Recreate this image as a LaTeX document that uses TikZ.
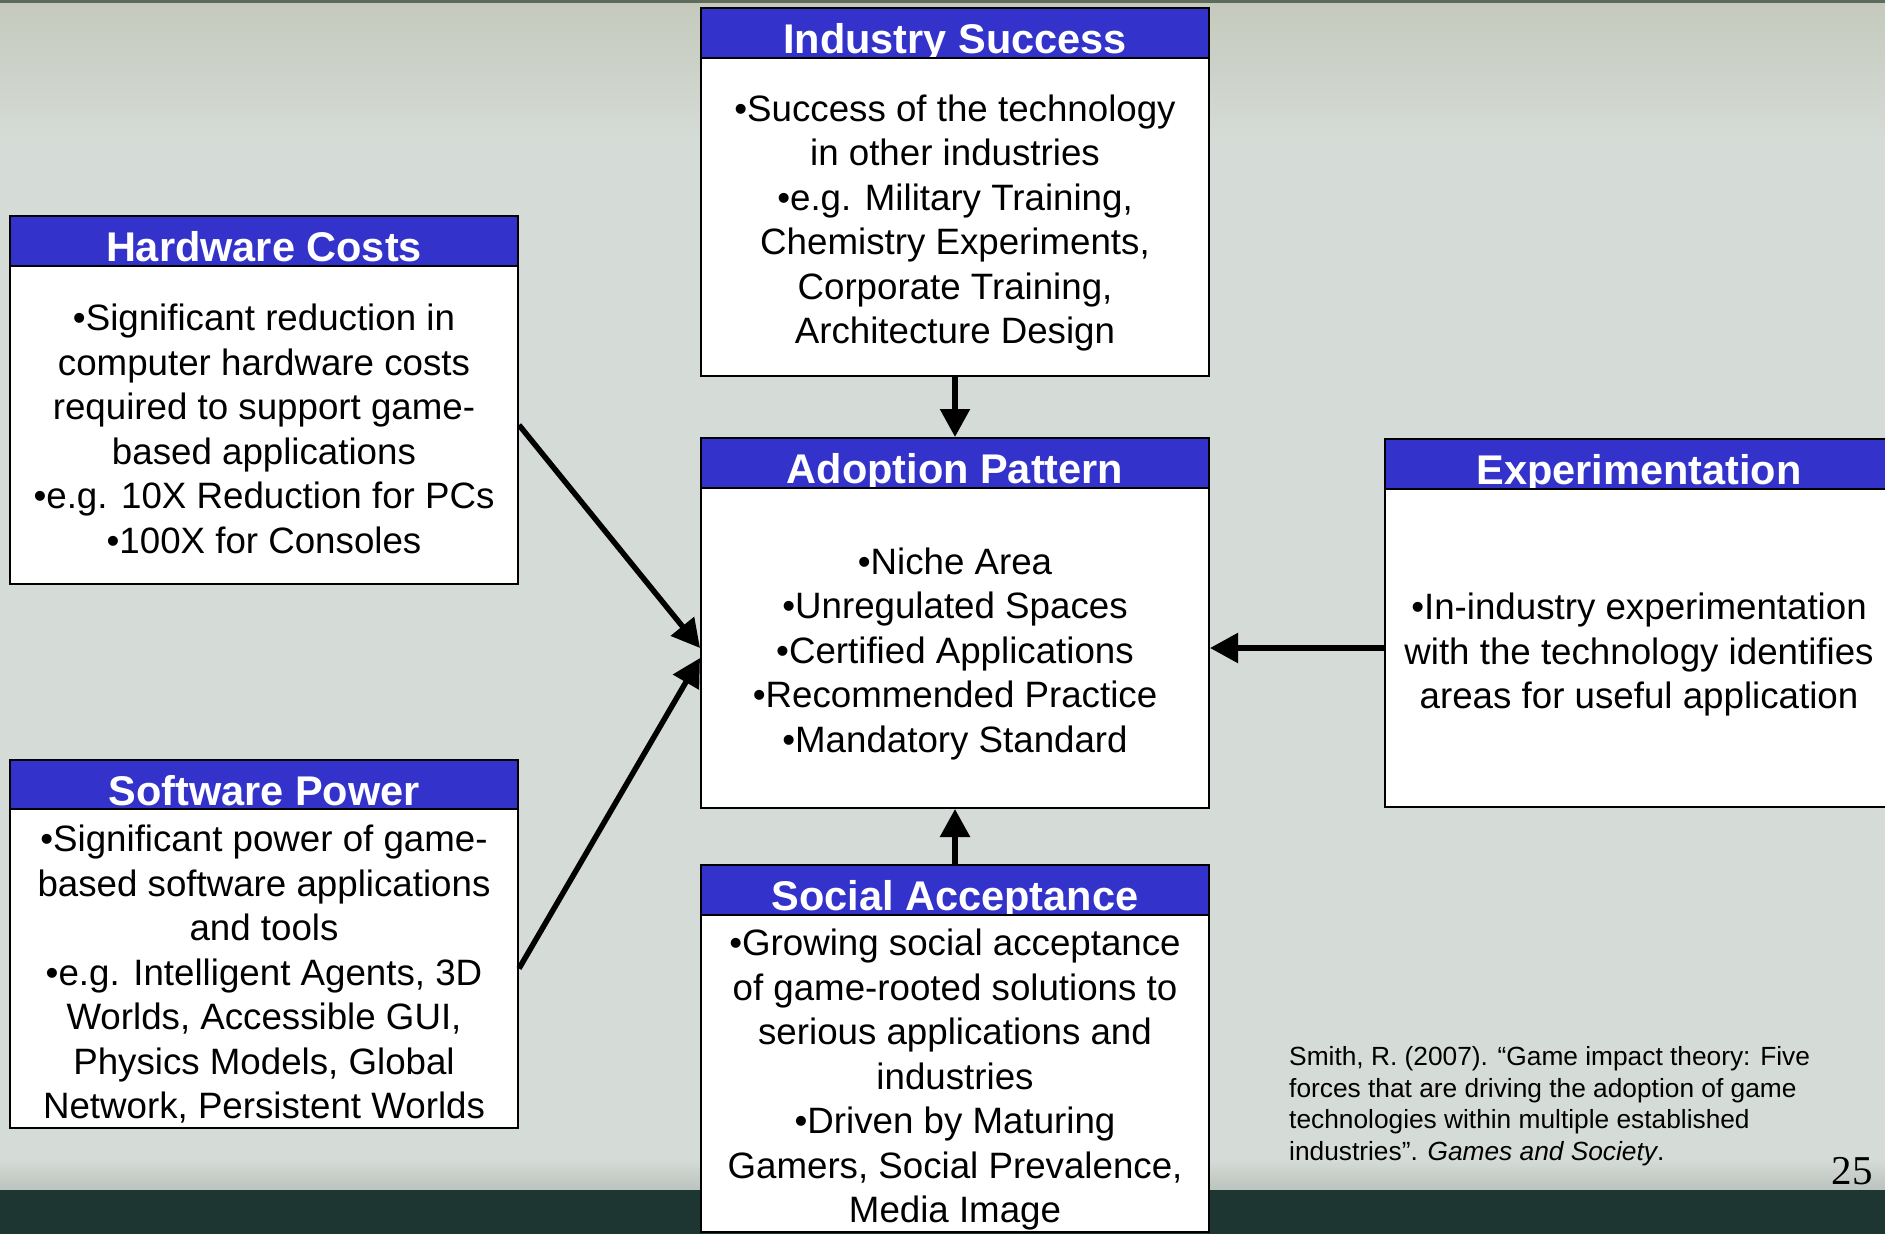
\documentclass[tikz,border=0pt]{standalone}
\usepackage{fontspec}
\setmainfont{Liberation Sans}
\newfontfamily\numfont{Liberation Serif}
\usetikzlibrary{arrows.meta,calc}

\definecolor{slidebg}{RGB}{213,219,214}
\definecolor{slidetop}{RGB}{197,202,189}
\definecolor{topline}{RGB}{95,107,90}
\definecolor{bandcol}{RGB}{30,54,49}
\definecolor{bandfade}{RGB}{186,195,189}
\definecolor{headblue}{RGB}{51,51,204}

\newcommand\hdfont{\bfseries\fontsize{41.5pt}{48pt}\selectfont}
\newcommand\bdfont{\fontsize{36.7pt}{44.5pt}\selectfont}
\newcommand\ctfont{\fontsize{26.3pt}{31.8pt}\selectfont}

\tikzset{
  headbox/.style={fill=headblue, draw=black, line width=2pt,
    minimum width=508pt, minimum height=50pt, inner sep=0pt,
    text=white, font=\hdfont, text height=45pt, text depth=5pt},
  bodybox/.style={fill=white, draw=black, line width=2pt,
    minimum width=508pt, inner sep=0pt},
  bodytext/.style={inner sep=0pt, align=center, font=\bdfont},
  force/.style={-{Triangle[length=28pt,width=29pt]}, line width=5.5pt},
}

\begin{document}
\begin{tikzpicture}[x=1pt, y=-1pt]
\useasboundingbox (0,0) rectangle (1885,1234);
\clip (0,0) rectangle (1885,1234);

% slide background
\fill[slidebg] (0,0) rectangle (1885,1234);
\shade[top color=slidetop, bottom color=slidebg] (0,3) rectangle (1885,140);
\fill[topline] (0,0) rectangle (1885,3);
\shade[top color=slidebg, bottom color=bandfade] (0,1160) rectangle (1885,1190);
\fill[bandcol] (0,1190) rectangle (1885,1234);

% Industry Success
\node[headbox] (isHead) at (955,33) {Industry Success};
\node[bodybox, minimum height=318pt] (isBody) at (955,217) {};
\node[bodytext] (isText) at ($(isBody.center)+(0,6)$)
  {•Success of the technology\\in other industries\\•e.g. Military Training,\\Chemistry Experiments,\\Corporate Training,\\Architecture Design};

% Hardware Costs
\node[headbox] (hcHead) at (264,241) {Hardware Costs};
\node[bodybox, minimum height=318pt] (hcBody) at (264,425) {};
\node[bodytext] (hcText) at ($(hcBody.center)+(0,4)$)
  {•Significant reduction in\\computer hardware costs\\required to support game-\\based applications\\•e.g. 10X Reduction for PCs\\•100X for Consoles};

% Adoption Pattern
\node[headbox] (apHead) at (955,463) {Adoption Pattern};
\node[bodybox, minimum height=320pt] (apBody) at (955,648) {};
\node[bodytext] (apText) at ($(apBody.center)+(0,6)$)
  {•Niche Area\\•Unregulated Spaces\\•Certified Applications\\•Recommended Practice\\•Mandatory Standard};

% Experimentation
\node[headbox] (exHead) at (1639,464) {Experimentation};
\node[bodybox, minimum height=318pt] (exBody) at (1639,648) {};
\node[bodytext] (exText) at ($(exBody.center)+(0,7)$)
  {•In-industry experimentation\\with the technology identifies\\areas for useful application};

% Software Power
\node[headbox] (spHead) at (264,785) {Software Power};
\node[bodybox, minimum height=319pt] (spBody) at (264,968.5) {};
\node[bodytext] (spText) at ($(spBody.center)+(0,6)$)
  {•Significant power of game-\\based software applications\\and tools\\•e.g. Intelligent Agents, 3D\\Worlds, Accessible GUI,\\Physics Models, Global\\Network, Persistent Worlds};

% Social Acceptance
\node[headbox] (saHead) at (955,890) {Social Acceptance};
\node[bodybox, minimum height=317pt] (saBody) at (955,1073.5) {};
\node[bodytext] (saText) at ($(saBody.center)+(0,6)$)
  {•Growing social acceptance\\of game-rooted solutions to\\serious applications and\\industries\\•Driven by Maturing\\Gamers, Social Prevalence,\\Media Image};

% forces acting on the adoption pattern
\draw[force] (isBody.south) -- (apHead.north);
\draw[force] (saHead.north) -- (apBody.south);
\draw[force] (exBody.west) -- (apBody.east);
\draw[force] (hcBody.east) -- (apBody.west);
\draw[force] (spBody.east) -- ($(apBody.west)+(0,10)$);

% reference and page number
\node[anchor=north west, align=left, inner sep=0pt, font=\ctfont] (cite) at (1289,1046)
  {Smith, R. (2007). “Game impact theory: Five\\forces that are driving the adoption of game\\technologies within multiple established\\industries”. \textit{Games and Society}.};
\node[anchor=base east, inner sep=0pt, font=\numfont\fontsize{41pt}{41pt}\selectfont] (pnum) at (1873,1184) {25};
\end{tikzpicture}
\end{document}
